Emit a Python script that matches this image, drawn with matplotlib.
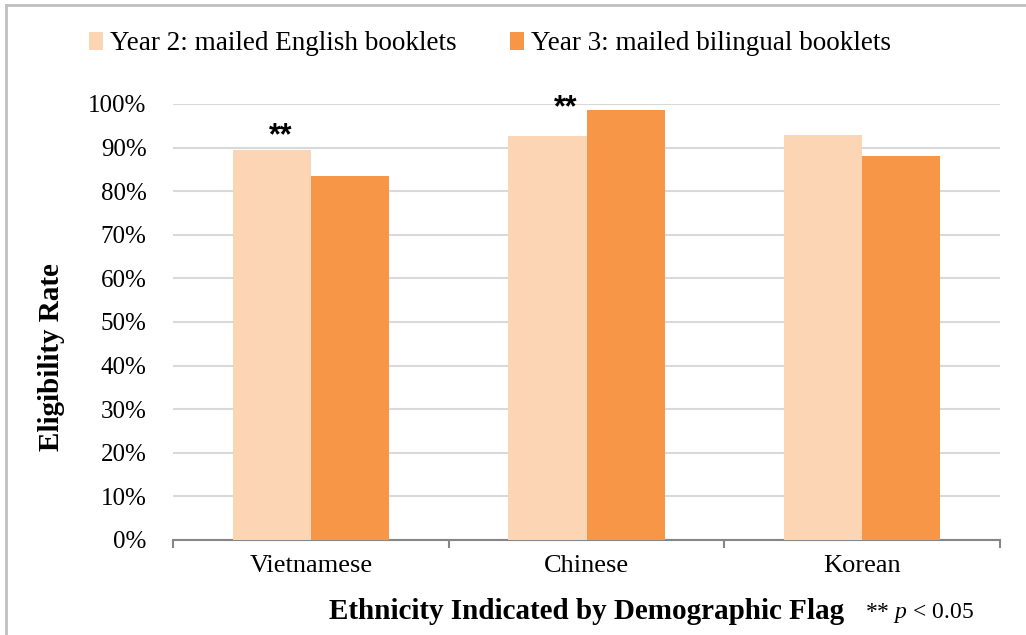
import matplotlib
matplotlib.use("Agg")
import matplotlib.pyplot as plt
from matplotlib.lines import Line2D
import numpy as np

categories = ['Vietnamese', 'Chinese', 'Korean']
year2 = [0.894, 0.927, 0.930]
year3 = [0.834, 0.986, 0.881]
series_names = ['Year 2: mailed English booklets', 'Year 3: mailed bilingual booklets']
colors = ['#FCD5B5', '#F79646']

plt.rcParams['font.family'] = ['Liberation Serif', 'DejaVu Serif']
plt.rcParams['mathtext.fontset'] = 'custom'
plt.rcParams['mathtext.it'] = 'Liberation Serif:italic'
plt.rcParams['mathtext.rm'] = 'Liberation Serif'

fig = plt.figure(figsize=(10.26, 6.35), dpi=100)
ax = fig.add_axes([173 / 1026, 95 / 635, 827 / 1026, 436 / 635])

ind = np.arange(len(categories))
width = 0.283
ax.bar(ind - width / 2, year2, width, color=colors[0], label=series_names[0], zorder=3)
ax.bar(ind + width / 2, year3, width, color=colors[1], label=series_names[1], zorder=3)

# ** significance marks: Vietnamese (over Year 2 bar) and Chinese (between bars)
ax.text(0 - 0.108, year2[0] + 0.032, '**', ha='center', va='center',
        fontsize=22, fontweight='bold', family='Liberation Sans')
ax.text(1 - 0.074, year3[1] + 0.004, '**', ha='center', va='center',
        fontsize=22, fontweight='bold', family='Liberation Sans')

ax.set_xlim(-0.5, 2.5)
ax.set_ylim(0, 1.0)
ticks = np.arange(0, 1.01, 0.1)
ax.set_yticks(ticks)
ax.set_yticklabels(['%d%%' % round(t * 100) for t in ticks], fontsize=18)
ax.yaxis.grid(True, color='#D9D9D9', linewidth=1.5, zorder=0)
ax.tick_params(axis='y', length=0, pad=19)

ax.set_xticks(ind)
ax.set_xticklabels(categories, fontsize=19)
ax.set_xticks([-0.5, 0.5, 1.5, 2.5], minor=True)
ax.tick_params(axis='x', which='major', length=0, pad=11)
ax.tick_params(axis='x', which='minor', length=6, color='#868686', width=1.5)

for s in ['top', 'right', 'left']:
    ax.spines[s].set_visible(False)
ax.spines['bottom'].set_color('#868686')
ax.spines['bottom'].set_linewidth(1.5)

ax.set_ylabel('Eligibility Rate', fontsize=21, fontweight='bold')
ax.set_xlabel('Ethnicity Indicated by Demographic Flag', fontsize=21, fontweight='bold')
ax.xaxis.set_label_coords(0.5, -0.165)
ax.yaxis.set_label_coords(-0.147, 0.42)
ax.xaxis.label.set_va('center')
ax.yaxis.label.set_va('center')

fig.text(919 / 1026, 1 - 613 / 635, r'** $p$ < 0.05', fontsize=17, ha='center', va='center')

fig.legend(loc='center', bbox_to_anchor=(490 / 1026, 1 - 44 / 635), ncol=2, frameon=False,
           fontsize=19.5, handlelength=0.5, handleheight=0.6, handletextpad=0.25, columnspacing=2.0)

# frame around the figure (only top and left visible)
fig.add_artist(Line2D([6 / 1026, 1], [1 - 5 / 635, 1 - 5 / 635], color='#C0C0C0', linewidth=2, transform=fig.transFigure))
fig.add_artist(Line2D([6 / 1026, 6 / 1026], [0, 1 - 5 / 635], color='#C0C0C0', linewidth=2, transform=fig.transFigure))

fig.savefig('out.png', dpi=100)
